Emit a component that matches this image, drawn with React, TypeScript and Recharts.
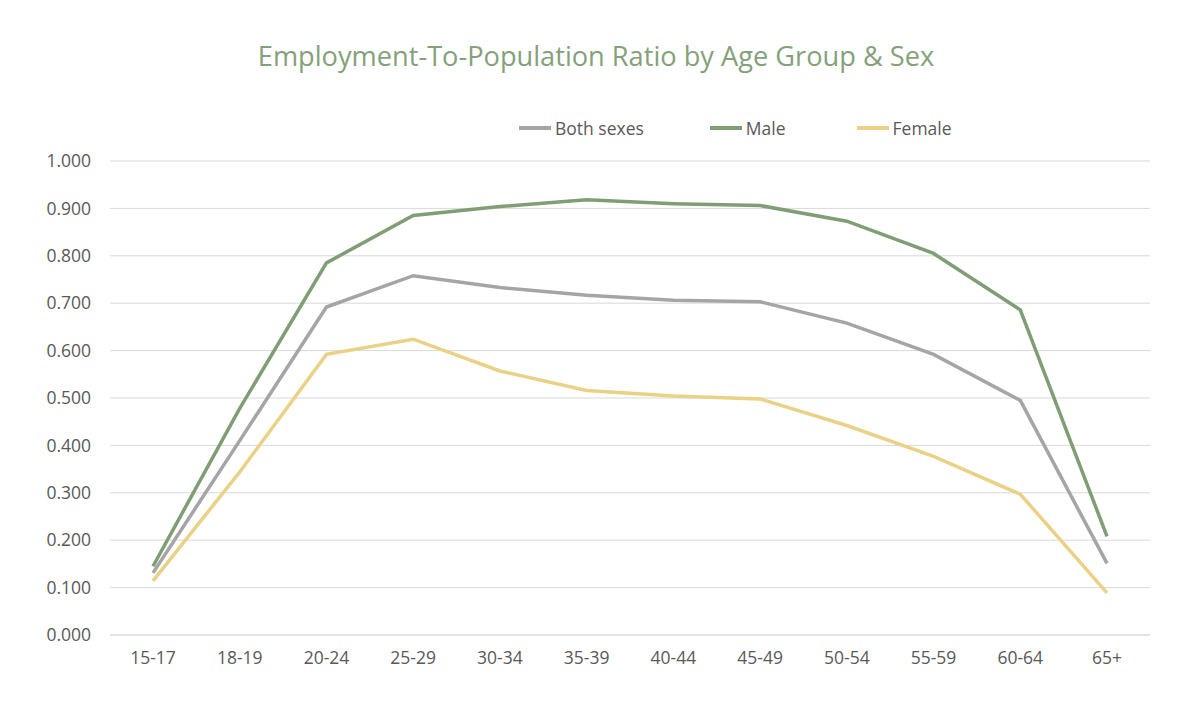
import React from "react";
import { LineChart, Line, XAxis, YAxis, CartesianGrid } from "recharts";

const categories = ["15-17", "18-19", "20-24", "25-29", "30-34", "35-39", "40-44", "45-49", "50-54", "55-59", "60-64", "65+"];
const bothSexes = [0.131, 0.41, 0.692, 0.758, 0.733, 0.717, 0.706, 0.703, 0.658, 0.592, 0.495, 0.151];
const male = [0.145, 0.478, 0.785, 0.885, 0.904, 0.918, 0.91, 0.906, 0.873, 0.805, 0.686, 0.208];
const female = [0.114, 0.344, 0.592, 0.624, 0.557, 0.516, 0.504, 0.498, 0.442, 0.377, 0.297, 0.089];
const yTicks = [0, 0.1, 0.2, 0.3, 0.4, 0.5, 0.6, 0.7, 0.8, 0.9, 1.0];

const seriesInfo = [
  { key: "both", name: "Both sexes", color: "#A5A5A5" },
  { key: "male", name: "Male", color: "#7F9E74" },
  { key: "female", name: "Female", color: "#EBD185" },
];

const legendGaps = [0, 66, 71];

const data = categories.map((c, i) => ({
  cat: c,
  both: bothSexes[i],
  male: male[i],
  female: female[i],
}));

const FONT = "'Open Sans', 'Noto Sans', sans-serif";

export default function App() {
  return (
    <div style={{ position: "absolute", left: 0, top: 0, width: 1184, height: 720, background: "#fff" }}>
      <div
        style={{
          position: "absolute",
          top: 36,
          left: 4,
          width: 1184,
          textAlign: "center",
          fontFamily: FONT,
          fontSize: 27.2,
          fontWeight: 500,
          color: "#84A17A",
          lineHeight: "40px",
        }}
      >
        Employment-To-Population Ratio by Age Group &amp; Sex
      </div>
      <div
        style={{
          position: "absolute",
          top: 115,
          left: 519,
          display: "flex",
          alignItems: "center",
          fontFamily: FONT,
          fontSize: 17.5,
          color: "#595959",
          lineHeight: "26px",
          whiteSpace: "nowrap",
        }}
      >
        {seriesInfo.map((s, i) => (
          <div key={s.key} style={{ display: "flex", alignItems: "center", marginLeft: legendGaps[i] }}>
            <div style={{ width: 32, height: 4, background: s.color, marginRight: 4 }} />
            <span>{s.name}</span>
          </div>
        ))}
      </div>
      <div style={{ position: "absolute", left: 0, top: 0 }}>
        <LineChart
          width={1184}
          height={720}
          data={data}
          margin={{ top: 161, right: 34, bottom: 55, left: 0 }}
        >
          <CartesianGrid vertical={false} stroke="#D9D9D9" strokeWidth={1} />
          <XAxis
            dataKey="cat"
            tickLine={false}
            axisLine={{ stroke: "#D9D9D9" }}
            tick={{ fill: "#595959", fontSize: 17.5, fontFamily: FONT }}
            tickMargin={11}
            interval={0}
            height={30}
            padding={{ left: 43, right: 43 }}
          />
          <YAxis
            width={110}
            domain={[0, 1]}
            ticks={yTicks}
            tickFormatter={(v: number) => v.toFixed(3)}
            tickLine={false}
            axisLine={false}
            tick={{ fill: "#595959", fontSize: 17.5, fontFamily: FONT }}
            tickMargin={13}
          />
          {seriesInfo.map((s) => (
            <Line
              key={s.key}
              type="linear"
              dataKey={s.key}
              name={s.name}
              stroke={s.color}
              strokeWidth={3.5}
              dot={false}
              activeDot={false}
              isAnimationActive={false}
            />
          ))}
        </LineChart>
      </div>
    </div>
  );
}
